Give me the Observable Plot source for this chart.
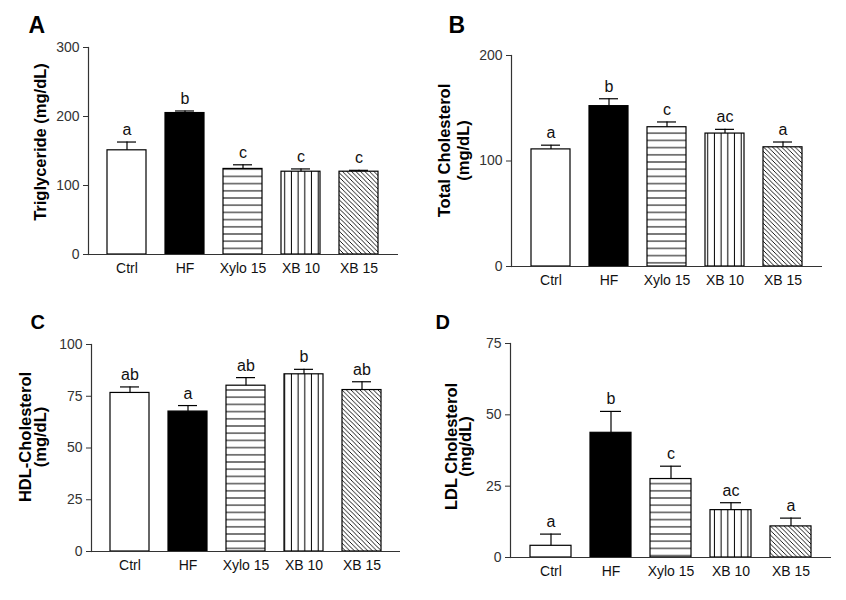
<!DOCTYPE html>
<html><head><meta charset="utf-8">
<script src="https://cdn.jsdelivr.net/npm/d3@7"></script>
<script src="https://cdn.jsdelivr.net/npm/@observablehq/plot@0.6"></script>
<style>
body{margin:0;background:#fff;}
#wrap{position:relative;width:846px;height:600px;background:#fff;}
.panel{position:absolute;width:423px;height:300px;}
</style></head><body>
<svg width="0" height="0" style="position:absolute">
<defs>
<pattern id="hstripe" patternUnits="userSpaceOnUse" width="10" height="7.2"><rect width="10" height="7.2" fill="white"/><line x1="0" x2="10" y1="3.6" y2="3.6" stroke="black" stroke-width="1"/></pattern>
<pattern id="vstripe" patternUnits="userSpaceOnUse" width="6.7" height="10"><rect width="6.7" height="10" fill="white"/><line x1="3.3" x2="3.3" y1="0" y2="10" stroke="black" stroke-width="1"/></pattern>
<pattern id="diag" patternUnits="userSpaceOnUse" width="4.5" height="4.5"><rect width="4.5" height="4.5" fill="white"/><path d="M0,0 L4.5,4.5 M-1,3.5 L1,5.5 M3.5,-1 L5.5,1" stroke="black" stroke-width="0.9"/></pattern>
</defs></svg>
<div id="wrap"></div>
<script>
const groups = ["Ctrl", "HF", "Xylo 15", "XB 10", "XB 15"];

const tgMean = [151, 205, 124, 120, 120];
const tgSem = [12, 3, 6, 4, 2];
const tgLetters = ["a", "b", "c", "c", "c"];
const tgTicks = [0, 100, 200, 300];

const tcMean = [111, 152, 132, 126, 113];
const tcSem = [4, 7, 5, 4, 5];
const tcLetters = ["a", "b", "c", "ac", "a"];
const tcTicks = [0, 100, 200];

const hdlMean = [76.6, 67.6, 80.1, 85.6, 78];
const hdlSem = [2.9, 2.9, 3.9, 2.4, 4];
const hdlLetters = ["ab", "a", "ab", "b", "ab"];
const hdlTicks = [0, 25, 50, 75, 100];

const ldlMean = [4.1, 43.7, 27.5, 16.6, 10.9];
const ldlSem = [4.1, 7.5, 4.5, 2.6, 2.9];
const ldlLetters = ["a", "b", "c", "ac", "a"];
const ldlTicks = [0, 25, 50, 75];

const fills = ["white", "black", "url(#hstripe)", "url(#vstripe)", "url(#diag)"];

function panel(o) {
  const rows = groups.map((g, i) => ({group: g, mean: o.means[i], top: o.means[i] + o.sems[i], letter: o.letters[i]}));
  const ymax = o.ticks[o.ticks.length - 1];
  return Plot.plot({
    width: 423, height: 300,
    marginTop: o.m[0], marginRight: o.m[1], marginBottom: o.m[2], marginLeft: o.m[3],
    style: {fontFamily: "'Liberation Sans', Arial, sans-serif", fontSize: "14px", color: "#333", background: "white", overflow: "visible"},
    x: {domain: groups, paddingInner: 0.32, paddingOuter: 0.31},
    y: {domain: [0, ymax]},
    color: {domain: groups, range: fills},
    marks: [
      Plot.barY(rows, {x: "group", y: "mean", fill: "group", stroke: "black", strokeWidth: 1.2}),
      Plot.ruleX(rows, {x: "group", y1: "mean", y2: "top", stroke: "black", strokeWidth: 1.2}),
      Plot.tickY(rows, {x: "group", y: "top", stroke: "black", strokeWidth: 1.2, insetLeft: 10, insetRight: 10}),
      Plot.text(rows, {x: "group", y: "top", text: "letter", dy: -7, lineAnchor: "bottom", fontSize: 16, fill: "#111"}),
      Plot.ruleY([0], {stroke: "#333", strokeWidth: 1.2}),
      Plot.frame({anchor: "left", stroke: "#333", strokeWidth: 1.2}),
      Plot.axisY({ticks: o.ticks, tickSize: 5, tickPadding: 4, label: null, tickFormat: d => String(d)}),
      Plot.axisX({tickSize: 0, tickPadding: 9, label: null, fill: "#111"}),
      Plot.text([o.ylabel], {frameAnchor: "left", text: d => d, rotate: -90, dx: o.ldx, dy: o.ldy, lineHeight: o.lh, textAnchor: "middle", lineAnchor: "middle", fontWeight: "bold", fontSize: 16.5, fill: "#000"}),
      Plot.text([o.panel], {frameAnchor: "top-left", text: d => d, dx: o.pdx, dy: o.pdy, textAnchor: "start", lineAnchor: "bottom", fontWeight: "bold", fontSize: o.psize, fill: "#000"})
    ]
  });
}

const specs = [
  {left: 0, top: 0, means: tgMean, sems: tgSem, letters: tgLetters, ticks: tgTicks, ylabel: "Triglyceride (mg/dL)", m: [47, 25, 46, 88], ldx: -47.5, ldy: -9, lh: 1, panel: "A", pdx: -60, pdy: -15, psize: 23},
  {left: 423, top: 0, means: tcMean, sems: tcSem, letters: tcLetters, ticks: tcTicks, ylabel: "Total Cholesterol\n(mg/dL)", m: [55, 24, 34, 88], ldx: -58, ldy: -10.5, lh: 1.14, panel: "B", pdx: -63, pdy: -23, psize: 23},
  {left: 0, top: 300, means: hdlMean, sems: hdlSem, letters: hdlLetters, ticks: hdlTicks, ylabel: "HDL-Cholesterol\n(mg/dL)", m: [44, 23, 49, 91], ldx: -58, ldy: -11, lh: 0.93, panel: "C", pdx: -61, pdy: -16, psize: 20},
  {left: 423, top: 300, means: ldlMean, sems: ldlSem, letters: ldlLetters, ticks: ldlTicks, ylabel: "LDL Cholesterol\n(mg/dL)", m: [43, 15, 43, 87], ldx: -51, ldy: -4, lh: 0.85, panel: "D", pdx: -75, pdy: -15, psize: 20}
];

const wrap = document.getElementById("wrap");
for (const s of specs) {
  const div = document.createElement("div");
  div.className = "panel";
  div.style.left = s.left + "px";
  div.style.top = s.top + "px";
  div.appendChild(panel(s));
  wrap.appendChild(div);
}
</script>
</body></html>
